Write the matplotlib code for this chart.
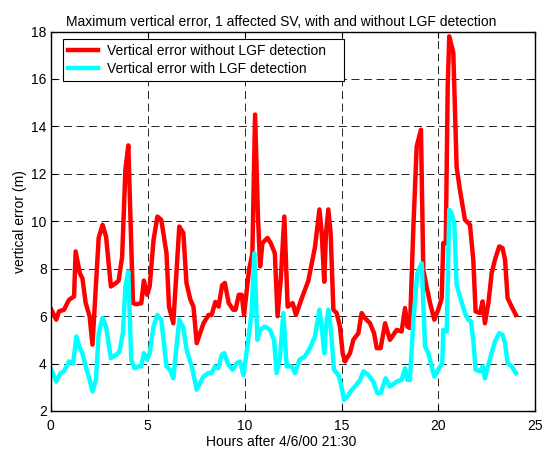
import matplotlib
matplotlib.use("Agg")
import matplotlib.pyplot as plt

plt.rcParams['font.family'] = ['Liberation Sans', 'DejaVu Sans']

title = "Maximum vertical error, 1 affected SV, with and without LGF detection"
xlabel = "Hours after 4/6/00 21:30"
ylabel = "vertical error (m)"
label_red = "Vertical error without LGF detection"
label_cyan = "Vertical error with LGF detection"

hours_red = [0.03, 0.28, 0.42, 0.68, 0.94, 1.2, 1.28, 1.5, 1.63, 1.8, 2.0, 2.15, 2.47, 2.67, 2.85,
             3.1, 3.37, 3.5, 3.68, 3.85, 4.0, 4.24, 4.41, 4.67, 4.8, 4.97, 5.1, 5.3, 5.5, 5.7,
             5.97, 6.1, 6.32, 6.63, 6.84, 7.0, 7.2, 7.36, 7.53, 7.71, 7.88, 8.14, 8.3, 8.49,
             8.66, 8.84, 8.98, 9.18, 9.41, 9.53, 9.7, 9.85, 9.97, 10.23, 10.4, 10.54, 10.69,
             10.8, 10.92, 11.18, 11.35, 11.56, 11.7, 11.87, 12.05, 12.22, 12.48, 12.65, 12.86,
             13.11, 13.29, 13.46, 13.63, 13.86, 13.98, 14.11, 14.2, 14.32, 14.44, 14.58, 14.75,
             14.92, 15.06, 15.18, 15.44, 15.61, 15.87, 16.04, 16.21, 16.47, 16.68, 16.82, 17.02,
             17.25, 17.5, 17.85, 18.1, 18.28, 18.4, 18.53, 18.71, 18.88, 19.1, 19.22, 19.39,
             19.57, 19.79, 19.99, 20.17, 20.25, 20.38, 20.48, 20.56, 20.77, 20.94, 21.11, 21.37,
             21.63, 21.8, 21.92, 22.15, 22.28, 22.4, 22.58, 22.75, 22.92, 23.14, 23.31, 23.44,
             23.57, 23.78, 24.0]
error_red = [6.27, 5.85, 6.2, 6.27, 6.69, 6.83, 8.73, 7.8, 7.6, 6.55, 6.0, 4.8, 9.3, 9.85, 9.36,
             7.25, 7.4, 7.5, 8.5, 12.2, 13.2, 6.55, 6.5, 6.55, 7.5, 6.9, 7.25, 9.2, 10.2, 10.06,
             8.65, 6.4, 5.7, 9.78, 9.5, 7.4, 6.7, 6.4, 4.86, 5.3, 5.7, 6.05, 6.05, 6.6,
             6.4, 7.3, 7.4, 6.55, 6.27, 6.27, 6.9, 6.9, 6.05, 7.95, 8.65, 14.5, 10.2,
             8.1, 9.08, 9.3, 9.08, 8.65, 6.0, 7.6, 10.2, 6.4, 6.55, 6.05, 6.55,
             7.1, 7.5, 8.2, 8.9, 10.5, 9.5, 7.45, 9.5, 10.5, 9.5, 6.27, 6.13,
             5.56, 4.44, 4.09, 4.44, 5.0, 5.28, 6.13, 5.92, 5.7, 5.28, 4.65, 4.65,
             5.7, 5.0, 5.42, 5.35, 6.34, 5.56, 5.5, 9.78, 13.16, 13.86, 7.96, 7.25,
             6.55, 5.85, 6.27, 6.76, 9.08, 9.08, 15.69, 17.8, 17.1, 12.3, 11.33, 10.06,
             9.85, 8.37, 6.2, 6.13, 6.62, 5.7, 6.55, 7.82, 8.38, 8.94, 8.87, 8.38,
             6.76, 6.4, 6.05]

hours_cyan = [0.03, 0.28, 0.5, 0.68, 0.94, 1.15, 1.32, 1.5, 1.63, 1.8, 1.98, 2.15, 2.33, 2.47,
              2.67, 2.85, 3.1, 3.37, 3.54, 3.72, 3.85, 4.0, 4.15, 4.32, 4.5, 4.67, 4.8, 4.97,
              5.1, 5.3, 5.5, 5.7, 5.97, 6.15, 6.32, 6.63, 6.84, 7.01, 7.27, 7.53, 7.7, 7.87,
              8.13, 8.3, 8.47, 8.64, 8.82, 8.95, 9.16, 9.38, 9.59, 9.76, 9.94, 10.19, 10.36,
              10.5, 10.66, 10.8, 11.05, 11.31, 11.52, 11.65, 11.83, 12.0, 12.17, 12.43, 12.6,
              12.83, 13.11, 13.37, 13.63, 13.86, 13.98, 14.11, 14.2, 14.32, 14.44, 14.61,
              14.84, 14.96, 15.13, 15.3, 15.53, 15.7, 15.96, 16.13, 16.39, 16.64, 16.85, 17.02,
              17.28, 17.5, 17.85, 18.1, 18.28, 18.4, 18.53, 18.71, 18.91, 19.14, 19.31, 19.48,
              19.65, 19.79, 19.99, 20.2, 20.25, 20.43, 20.56, 20.68, 20.82, 20.94, 21.11,
              21.37, 21.54, 21.68, 21.8, 21.92, 22.15, 22.28, 22.4, 22.58, 22.75, 22.92,
              23.14, 23.31, 23.44, 23.57, 23.78, 24.0]
error_cyan = [3.74, 3.24, 3.6, 3.67, 4.09, 4.0, 5.14, 4.65, 4.44, 3.88, 3.38, 2.82, 3.31, 5.28,
              5.92, 5.56, 4.23, 4.37, 4.5, 5.28, 7.25, 7.88, 4.16, 3.8, 3.88, 3.88, 4.44, 4.16,
              4.44, 5.56, 6.05, 5.85, 3.88, 3.74, 3.38, 5.85, 5.5, 4.58, 3.88, 2.9, 3.18, 3.45,
              3.6, 3.6, 3.88, 3.8, 4.37, 4.44, 3.95, 3.74, 4.02, 4.09, 3.52, 5.0, 6.13,
              8.65, 5.0, 5.42, 5.56, 5.42, 5.0, 3.6, 4.3, 6.13, 3.88, 3.88, 3.6,
              4.16, 4.3, 4.65, 5.14, 6.27, 5.56, 4.44, 5.56, 6.27, 5.56, 3.74,
              3.52, 3.17, 2.47, 2.61, 2.89, 3.03, 3.31, 3.67, 3.52, 3.24, 2.75, 2.75,
              3.38, 3.03, 3.24, 3.31, 3.8, 3.31, 3.31, 5.85, 7.8, 8.23, 4.72, 4.44,
              3.88, 3.45, 3.74, 4.02, 5.42, 5.35, 10.49, 10.35, 9.92, 7.32, 6.83,
              6.13, 5.85, 5.78, 5.0, 3.74, 3.67, 3.88, 3.38, 3.95, 4.44, 4.94,
              5.28, 5.21, 4.86, 4.02, 3.88, 3.6]

xticks = [0, 5, 10, 15, 20, 25]
yticks = [2, 4, 6, 8, 10, 12, 14, 16, 18]

fig = plt.figure(figsize=(5.44, 4.51), dpi=100)
ax = fig.add_axes([0.0934, 0.0887, 0.8906, 0.8413])

ax.plot(hours_red, error_red, color='#ff0000', lw=3.2, label=label_red, solid_joinstyle='round')
ax.plot(hours_cyan, error_cyan, color='#00ffff', lw=3.2, label=label_cyan, solid_joinstyle='round')

ax.set_xlim(0, 25)
ax.set_ylim(2, 18)
ax.set_xticks(xticks)
ax.set_yticks(yticks)
ax.grid(True, color='black', linestyle=(0, (9.5, 5.5)), linewidth=0.6)
ax.tick_params(direction='in', top=True, right=True, labelsize=10, length=4, width=0.8, pad=3)
ax.tick_params(axis='x', pad=6)
for s in ax.spines.values():
    s.set_linewidth(1.0)

ax.set_title(title, fontsize=10, pad=4, x=0.475)
ax.set_xlabel(xlabel, fontsize=10, labelpad=1, x=0.475)
ax.set_ylabel(ylabel, fontsize=10, labelpad=3)

leg = ax.legend(loc='upper left', bbox_to_anchor=(0.0252, 0.0, 0.58, 0.980), mode='expand',
                fontsize=10, fancybox=False, edgecolor='black', framealpha=1, borderpad=0.35,
                handlelength=2.2, handletextpad=0.6, labelspacing=0.3, borderaxespad=0)
leg.get_frame().set_linewidth(0.8)

fig.savefig("out.png", dpi=100)
